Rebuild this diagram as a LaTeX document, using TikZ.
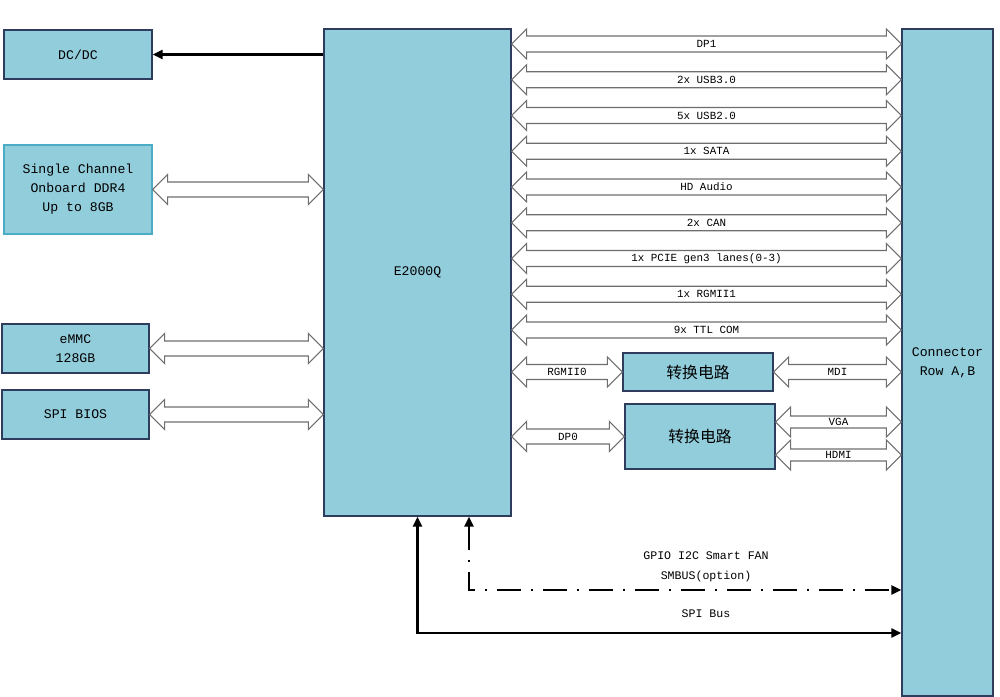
\documentclass[tikz,border=0pt]{standalone}
\usepackage{fontspec}
\setmonofont{Liberation Mono}
\newfontfamily\cjk{Noto Sans CJK SC}
\usepackage{xcolor}
\usepackage{tikz}
\usetikzlibrary{arrows.meta,calc}

\definecolor{boxfill}{HTML}{92CDDC}
\definecolor{boxline}{HTML}{2E3D5E}
\definecolor{ddrline}{HTML}{4BACC6}
\definecolor{busline}{HTML}{6E6E6E}

\begin{document}
\begin{tikzpicture}[
    x=0.2mm, y=-0.2mm,
    >={Triangle[length=2mm,width=1.8mm]},
    block/.style={draw=boxline, fill=boxfill, line width=0.8pt, align=center, inner sep=0pt, font=\ttfamily\fontsize{7.5}{10.8}\selectfont},
    conv/.style={block, font=\cjk\fontsize{9}{11}\selectfont},
    bus/.style={draw=busline, fill=white, line width=0.6pt, to path={let \p1=(\tikztostart), \p2=(\tikztotarget) in
        -- (\x1+3mm,\y1+3mm) -- (\x1+3mm,\y1+#1) -- (\x2-3mm,\y1+#1) -- (\x2-3mm,\y1+3mm) -- (\x2,\y1)
        -- (\x2-3mm,\y1-3mm) -- (\x2-3mm,\y1-#1) -- (\x1+3mm,\y1-#1) -- (\x1+3mm,\y1-3mm) -- cycle}},
    bus/.default=1.6mm,
    buslabel/.style={font=\ttfamily\fontsize{6.2}{7}\selectfont, inner sep=0pt},
    sig/.style={line width=1.3pt, <->},
    siglabel/.style={align=center, font=\ttfamily\fontsize{6.6}{11.4}\selectfont}
]
  \useasboundingbox (0,0) rectangle (1000,697);

  % Blocks
  \node[block, minimum width=29.6mm, minimum height=9.8mm] (dcdc) at (78,54.5) {DC/DC};
  \node[block, draw=ddrline, minimum width=29.6mm, minimum height=17.8mm] (ddr) at (78,189.5) {Single Channel\\Onboard DDR4\\Up to 8GB};
  \node[block, minimum width=29.4mm, minimum height=9.8mm] (emmc) at (75.5,348.5) {eMMC\\128GB};
  \node[block, minimum width=29.4mm, minimum height=9.8mm] (bios) at (75.5,414.5) {SPI BIOS};
  \node[block, minimum width=37.4mm, minimum height=97.4mm] (cpu) at (417.5,272.5) {E2000Q};
  \node[block, minimum width=18.2mm, minimum height=133.4mm] (conn) at (947.5,362.5) {Connector\\Row A,B};
  \node[conv, minimum width=30mm, minimum height=7.6mm] (phy) at (698,372) {转换电路};
  \node[conv, minimum width=30mm, minimum height=13mm] (dpconv) at (700,436.5) {转换电路};

  % Power
  \draw[->, line width=1.3pt] (cpu.west |- dcdc.east) -- (dcdc.east);

  % Left buses
  \draw[bus=1.5mm] (ddr.east) to (cpu.west |- ddr.east);
  \draw[bus=1.5mm] (emmc.east) to (cpu.west |- emmc.east);
  \draw[bus=1.5mm] (bios.east) to (cpu.west |- bios.east);

  % Buses to the connector
  \foreach \lbl [count=\i] in {DP1, 2x USB3.0, 5x USB2.0, 1x SATA, HD Audio, 2x CAN, 1x PCIE gen3 lanes(0-3), 1x RGMII1, 9x TTL COM} {
    \coordinate (row) at (0,8.25+35.75*\i);
    \draw[bus] (cpu.east |- row) to (conn.west |- row);
    \path (cpu.east |- row) -- node[buslabel] {\lbl} (conn.west |- row);
  }

  % Converters
  \draw[bus=1.5mm] (cpu.east |- phy.west) to (phy.west);
  \path (cpu.east |- phy.west) -- node[buslabel] {RGMII0} (phy.west);
  \draw[bus=1.5mm] (phy.east) to (conn.west |- phy.east);
  \path (phy.east) -- node[buslabel] {MDI} (conn.west |- phy.east);
  \draw[bus=1.5mm] (cpu.east |- dpconv.west) to (dpconv.west);
  \path (cpu.east |- dpconv.west) -- node[buslabel] {DP0} (dpconv.west);
  \coordinate (vga) at (0,422);
  \coordinate (hdmi) at (0,455);
  \draw[bus=1.2mm] (dpconv.east |- vga) to (conn.west |- vga);
  \path (dpconv.east |- vga) -- node[buslabel] {VGA} (conn.west |- vga);
  \draw[bus=1.2mm] (dpconv.east |- hdmi) to (conn.west |- hdmi);
  \path (dpconv.east |- hdmi) -- node[buslabel] {HDMI} (conn.west |- hdmi);

  % Low speed signals
  \coordinate (smb) at (469,590);
  \coordinate (spi) at (418,633);
  \draw[sig, line width=1.5pt, dash pattern=on 4.8mm off 2mm on 0.4mm off 2mm] (cpu.south -| smb) |- (conn.west |- smb);
  \draw[sig] (cpu.south) |- (conn.west |- spi);
  \node[siglabel] (smblbl) at (706,567) {GPIO I2C Smart FAN\\SMBUS(option)};
  \node[siglabel] (spilbl) at (706,614) {SPI Bus};
\end{tikzpicture}
\end{document}
